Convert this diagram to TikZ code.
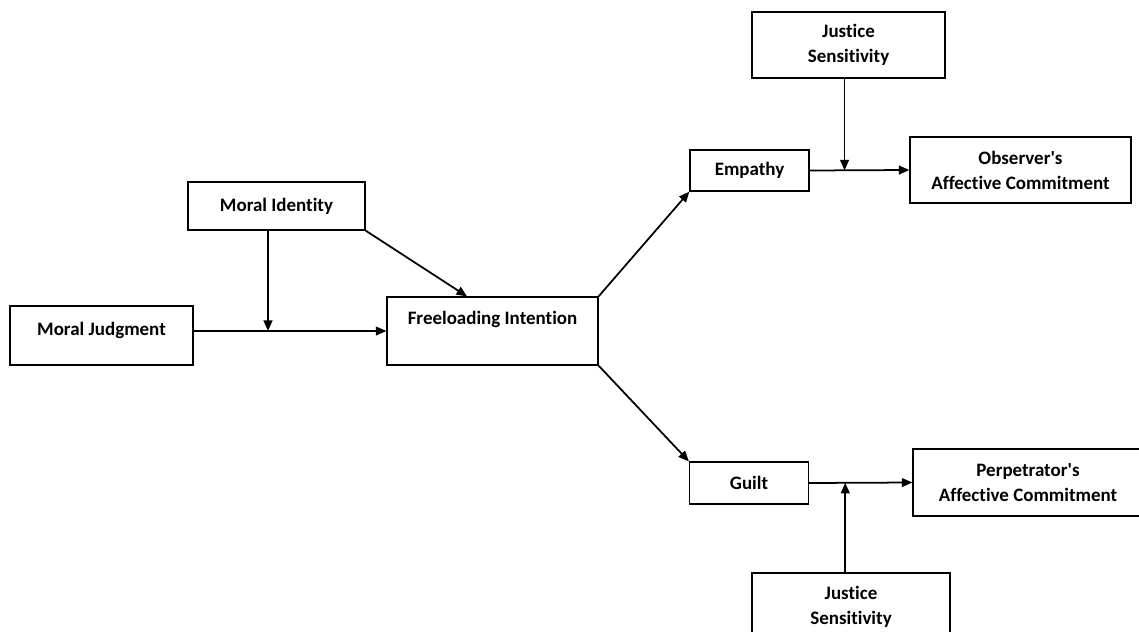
\documentclass[tikz,border=0pt]{standalone}
\usepackage{fontspec}
\setmainfont{Carlito}[Ligatures=NoCommon]
\usetikzlibrary{arrows.meta, calc}

\begin{document}
\begin{tikzpicture}[
        x=0.02cm, y=-0.02cm,
        box/.style={draw, line width=0.7pt, inner sep=0pt, align=center,
            font=\bfseries\fontsize{10.8}{14.2}\selectfont},
        size/.style 2 args={minimum width={#1*0.02cm}, minimum height={#2*0.02cm}},
        link/.style={line width=1pt, -{Triangle[length=6pt,width=5pt]}},
    ]
        \useasboundingbox (0,0) rectangle (1139,632);

        \node[box, size={183}{59}, text height=7.5pt, text depth=7.9pt] (judgment) at (101.5,335.5) {Moral Judgment};
        \node[box, size={177}{48}] (identity) at (276.5,206) {Moral Identity};
        \node[box, size={211}{68}, text height=7.5pt, text depth=15.3pt] (intention) at (492.5,331) {Freeloading Intention};
        \node[box, size={119}{41}] (empathy) at (749.5,170.5) {Empathy};
        \node[box, size={119}{42}] (guilt) at (749,483) {Guilt};
        \node[box, size={193}{66}] (justiceA) at (848.5,45) {Justice\\Sensitivity};
        \node[box, size={221}{66}] (observer) at (1020.5,170) {Observer\textquotesingle s\\Affective Commitment};
        \node[box, size={230}{67}] (perpetrator) at (1028,482.5) {Perpetrator\textquotesingle s\\Affective Commitment};
        \node[box, size={198}{67}] (justiceB) at (851,606.5) {Justice\\Sensitivity};

        \coordinate (modA) at (268,331);
        \coordinate (modB) at ($(empathy.east)!0.35!(observer.west)$);
        \coordinate (modC) at ($(guilt.east)!0.35!(perpetrator.west)$);

        \draw[link] (judgment.east |- intention.west) -- (intention.west);
        \draw[link] (identity.south -| modA) -- (modA);
        \draw[link] (identity.south east) -- ($(intention.north west)!0.38!(intention.north east)$);
        \draw[link] (intention.north east) -- (empathy.south west);
        \draw[link] (intention.south east) -- (guilt.north west);
        \draw[link] (empathy.east) -- (observer.west);
        \draw[link] (justiceA.south -| modB) -- (modB);
        \draw[link] (guilt.east) -- (perpetrator.west);
        \draw[link] (justiceB.north -| modC) -- (modC);
\end{tikzpicture}
\end{document}
